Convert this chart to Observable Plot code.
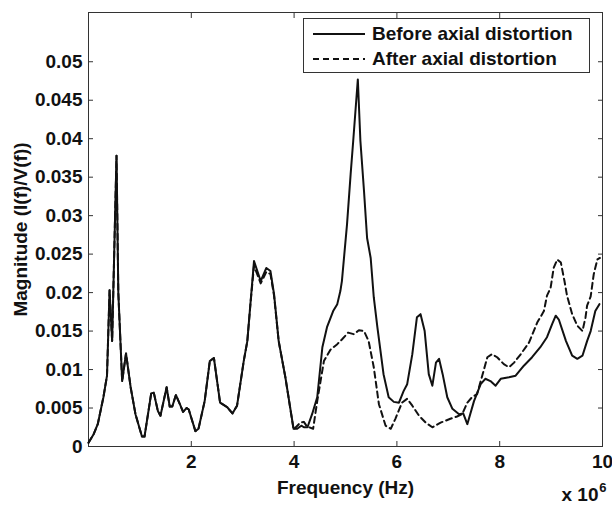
<!DOCTYPE html>
<html>
<head>
<meta charset="utf-8">
<script src="https://cdn.jsdelivr.net/npm/d3@7"></script>
<script src="https://cdn.jsdelivr.net/npm/@observablehq/plot@0.6"></script>
<style>
  html, body { margin: 0; padding: 0; background: #fff; }
  #wrap { position: relative; width: 612px; height: 505px; font-family: "Liberation Sans", Arial, sans-serif; }
  #legend { position: absolute; left: 303px; top: 18px; width: 287px; height: 55px; border: 1px solid #333; background: #fff; box-sizing: border-box; }
  .row { position: absolute; left: 9px; display: flex; align-items: center; height: 22px; }
  .row span { font-weight: bold; font-size: 19px; color: #111; margin-left: 7px; }
</style>
</head>
<body>
<div id="wrap"></div>
<script>
// Frequency in units of 1e6 Hz
const beforeFreq = [0.0,0.1,0.18,0.29,0.36,0.41,0.46,0.545,0.58,0.655,0.73,0.82,0.914,1.04,1.09,1.22,1.27,1.35,1.4,1.52,1.58,1.63,1.70,1.79,1.84,1.91,1.95,2.08,2.14,2.26,2.36,2.44,2.56,2.70,2.80,2.89,3.02,3.09,3.15,3.22,3.35,3.46,3.54,3.61,3.70,3.83,3.99,4.06,4.14,4.19,4.26,4.35,4.45,4.55,4.64,4.76,4.84,4.90,4.93,5.03,5.10,5.15,5.24,5.29,5.36,5.42,5.49,5.55,5.62,5.74,5.84,5.94,6.04,6.13,6.20,6.30,6.39,6.46,6.54,6.62,6.69,6.76,6.82,6.89,6.98,7.08,7.21,7.29,7.37,7.50,7.63,7.72,7.82,7.92,8.02,8.18,8.31,8.47,8.63,8.79,8.92,9.02,9.09,9.15,9.29,9.41,9.51,9.61,9.70,9.77,9.86,9.94];
const beforeMag = [0.0005,0.0016,0.0029,0.0064,0.0092,0.0203,0.0137,0.0378,0.020,0.0085,0.0121,0.0077,0.0042,0.0013,0.0013,0.0069,0.0070,0.0046,0.0040,0.0077,0.0052,0.0052,0.0067,0.0053,0.0045,0.0050,0.0048,0.0020,0.0023,0.0059,0.0111,0.0115,0.0057,0.0051,0.0043,0.0053,0.0111,0.0137,0.0185,0.0241,0.0215,0.0232,0.0228,0.0198,0.0137,0.0090,0.0023,0.0023,0.0027,0.0025,0.0025,0.0042,0.0064,0.0129,0.0155,0.0176,0.0185,0.0202,0.0215,0.0289,0.0354,0.0397,0.0477,0.0397,0.0332,0.0271,0.0245,0.0194,0.0155,0.0094,0.0064,0.0058,0.0057,0.0072,0.0081,0.0120,0.0168,0.0172,0.0150,0.0094,0.0079,0.0109,0.0114,0.0094,0.0064,0.0049,0.0042,0.0043,0.0029,0.0059,0.0081,0.0088,0.0085,0.0079,0.0088,0.0090,0.0092,0.0105,0.0116,0.0129,0.0142,0.0159,0.0170,0.0165,0.0137,0.0118,0.0114,0.0118,0.0137,0.0150,0.0176,0.0185];

const afterFreq = [0.0,0.1,0.18,0.29,0.36,0.41,0.46,0.545,0.58,0.655,0.73,0.82,0.914,1.04,1.09,1.22,1.27,1.35,1.4,1.52,1.58,1.63,1.70,1.79,1.84,1.91,1.95,2.08,2.14,2.26,2.36,2.44,2.56,2.70,2.80,2.89,3.02,3.09,3.15,3.22,3.35,3.46,3.54,3.61,3.70,3.83,3.99,4.12,4.19,4.25,4.37,4.45,4.58,4.71,4.84,4.93,5.05,5.16,5.26,5.36,5.45,5.55,5.65,5.78,5.88,5.97,6.10,6.20,6.30,6.43,6.56,6.69,6.85,7.04,7.17,7.27,7.37,7.46,7.56,7.66,7.76,7.85,7.95,8.08,8.18,8.28,8.41,8.57,8.73,8.86,8.92,8.99,9.05,9.12,9.19,9.26,9.31,9.41,9.51,9.61,9.67,9.70,9.77,9.83,9.90,9.95];
const afterMag = [0.0005,0.0016,0.0029,0.0064,0.0092,0.0203,0.0137,0.0378,0.020,0.0085,0.0121,0.0077,0.0042,0.0013,0.0013,0.0069,0.0070,0.0046,0.0040,0.0077,0.0052,0.0052,0.0067,0.0053,0.0045,0.0050,0.0048,0.0020,0.0023,0.0059,0.0111,0.0115,0.0057,0.0051,0.0043,0.0053,0.0111,0.0137,0.0185,0.0235,0.0212,0.0227,0.0224,0.0196,0.0137,0.0090,0.0022,0.0031,0.0032,0.0026,0.0023,0.0059,0.0111,0.0126,0.0133,0.0139,0.0148,0.0146,0.0151,0.0150,0.0137,0.0103,0.0055,0.0027,0.0023,0.0036,0.0057,0.0062,0.0053,0.0040,0.0031,0.0025,0.0031,0.0036,0.0039,0.0042,0.0057,0.0064,0.0068,0.0092,0.0116,0.0120,0.0116,0.0107,0.0103,0.0109,0.0120,0.0135,0.0161,0.0176,0.0196,0.0206,0.0232,0.0243,0.0239,0.0215,0.0196,0.0172,0.0157,0.0150,0.0168,0.0183,0.0195,0.0224,0.0243,0.0245];

const xTicks = [2, 4, 6, 8, 10];
const yTicks = [0, 0.005, 0.01, 0.015, 0.02, 0.025, 0.03, 0.035, 0.04, 0.045, 0.05];
const yTickLabels = ["0","0.005","0.01","0.015","0.02","0.025","0.03","0.035","0.04","0.045","0.05"];
const seriesNames = ["Before axial distortion", "After axial distortion"];
const xLabel = "Frequency (Hz)";
const yLabel = "Magnitude (I(f)/V(f))";
const xScaleText = "x 10";
const xScaleExp = "6";

const before = beforeFreq.map((f, i) => ({f, m: beforeMag[i]}));
const after = afterFreq.map((f, i) => ({f, m: afterMag[i]}));

const fontStyle = {fontFamily: "Liberation Sans, Arial, sans-serif", fontWeight: "bold", fontSize: "19px", color: "#111"};

const chart = Plot.plot({
  width: 612,
  height: 505,
  marginLeft: 88,
  marginRight: 10,
  marginTop: 12,
  marginBottom: 59,
  style: {...fontStyle, background: "#fff", overflow: "visible"},
  x: {domain: [0, 10]},
  y: {domain: [0, 0.0564]},
  marks: [
    Plot.frame({stroke: "#333", strokeWidth: 1}),
    // inward ticks on all four sides
    Plot.axisY(yTicks, {anchor: "left", tickSize: -5, text: null, label: null, stroke: "#333"}),
    Plot.axisY(yTicks, {anchor: "right", tickSize: -5, text: null, label: null, stroke: "#333"}),
    Plot.axisX(xTicks, {anchor: "bottom", tickSize: -5, text: null, label: null, stroke: "#333"}),
    Plot.axisX(xTicks, {anchor: "top", tickSize: -5, text: null, label: null, stroke: "#333"}),
    // tick labels
    Plot.axisY(yTicks, {anchor: "left", tickSize: 0, tickPadding: 6, tickFormat: (d, i) => yTickLabels[i], label: null, fill: "#111"}),
    Plot.axisX(xTicks, {anchor: "bottom", tickSize: 0, tickPadding: 8, tickFormat: d => String(d), label: null, fill: "#111"}),
    // axis titles
    Plot.text([yLabel], {frameAnchor: "left", text: d => d, rotate: -90, dx: -68, textAnchor: "middle", lineAnchor: "middle", fill: "#111", fontSize: 19, fontWeight: "bold"}),
    Plot.text([xLabel], {frameAnchor: "bottom", text: d => d, dy: 41, textAnchor: "middle", lineAnchor: "middle", fill: "#111", fontSize: 19, fontWeight: "bold"}),
    Plot.line(after, {x: "f", y: "m", stroke: "#111", strokeWidth: 2, strokeDasharray: "6,4"}),
    Plot.line(before, {x: "f", y: "m", stroke: "#111", strokeWidth: 2}),
    Plot.text([xScaleText], {frameAnchor: "bottom-right", text: d => d, dy: 48, dx: -4, textAnchor: "end", lineAnchor: "middle", fill: "#111", fontSize: 19, fontWeight: "bold"}),
    Plot.text([xScaleExp], {frameAnchor: "bottom-right", text: d => d, dy: 41, dx: 4, textAnchor: "end", lineAnchor: "middle", fill: "#111", fontSize: 13, fontWeight: "bold"})
  ]
});

const wrap = document.getElementById("wrap");
wrap.appendChild(chart);

// legend
const legend = document.createElement("div");
legend.id = "legend";
seriesNames.forEach((name, i) => {
  const row = document.createElement("div");
  row.className = "row";
  row.style.top = (i === 0 ? 4 : 29) + "px";
  const dash = i === 0 ? "" : 'stroke-dasharray="6,4"';
  row.innerHTML = `<svg width="52" height="6"><line x1="0" y1="3" x2="52" y2="3" stroke="#111" stroke-width="2" ${dash}/></svg><span>${name}</span>`;
  legend.appendChild(row);
});
wrap.appendChild(legend);
</script>
</body>
</html>
